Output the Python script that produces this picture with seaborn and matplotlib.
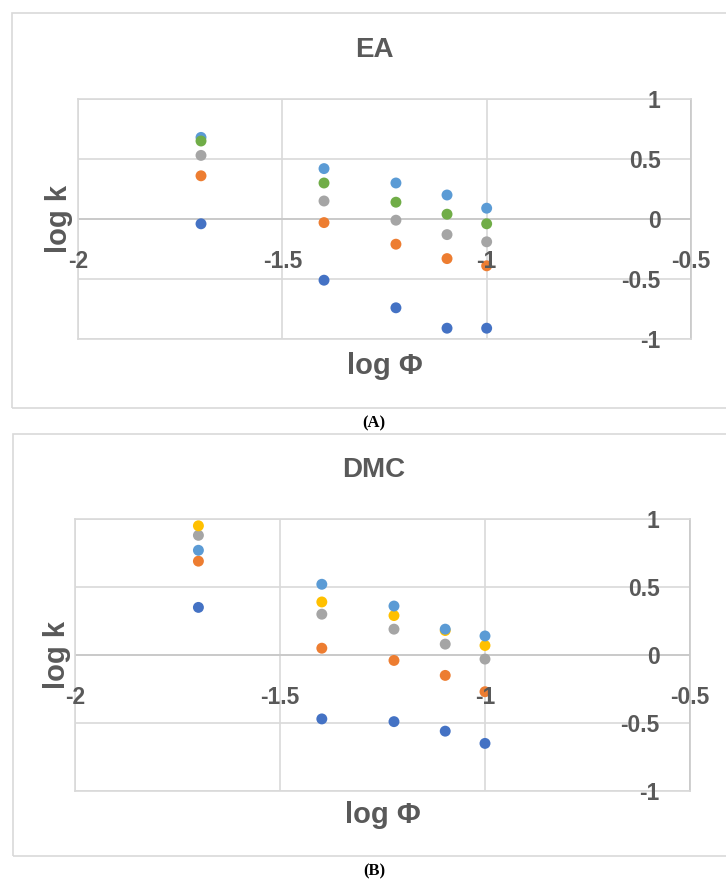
import numpy as np
import pandas as pd
import matplotlib
matplotlib.use('Agg')
import matplotlib.pyplot as plt
import matplotlib.patches as mpatches
import seaborn as sns

# ================= 数据 =================
# log Φ (x) 五个浓度点
log_phi = [-1.699, -1.398, -1.222, -1.097, -1.0]

# 面板 A: EA
ea_series = ['s1', 's2', 's3', 's5', 's6']
ea_s1 = [-0.04, -0.51, -0.74, -0.91, -0.91]
ea_s2 = [0.36, -0.03, -0.21, -0.33, -0.39]
ea_s3 = [0.53, 0.15, -0.01, -0.13, -0.19]
ea_s5 = [0.68, 0.42, 0.30, 0.20, 0.09]
ea_s6 = [0.65, 0.30, 0.14, 0.04, -0.04]

# 面板 B: DMC
dmc_series = ['s1', 's2', 's3', 's4', 's5']
dmc_s1 = [0.35, -0.47, -0.49, -0.56, -0.65]
dmc_s2 = [0.69, 0.05, -0.04, -0.15, -0.27]
dmc_s3 = [0.88, 0.30, 0.19, 0.08, -0.03]
dmc_s4 = [0.95, 0.39, 0.29, 0.18, 0.07]
dmc_s5 = [0.77, 0.52, 0.36, 0.19, 0.14]

x_ticks = [-2, -1.5, -1, -0.5]
x_ticklabels = ['-2', '-1.5', '-1', '-0.5']
y_ticks = [-1, -0.5, 0, 0.5, 1]
y_ticklabels = ['-1', '-0.5', '0', '0.5', '1']

# Excel 默认配色
PALETTE = {'s1': '#4472C4', 's2': '#ED7D31', 's3': '#A5A5A5',
           's4': '#FFC000', 's5': '#5B9BD5', 's6': '#70AD47'}

TXT = '#595959'
GRID = '#d9d9d9'

sns.set_style("white")
plt.rcParams['font.family'] = ['Liberation Sans', 'DejaVu Sans']
plt.rcParams['axes.unicode_minus'] = False

W, H = 726, 880


def make_df(names, values):
    rows = []
    for name, vals in zip(names, values):
        for x, y in zip(log_phi, vals):
            rows.append({'series': name, 'logphi': x, 'logk': y})
    return pd.DataFrame(rows)


def draw_panel(fig, box_px, title, title_y, df, names, label_k_x, label_phi_y, cap, cap_y, frame_px):
    l, r, t, b = box_px
    pos = [l / W, 1 - b / H, (r - l) / W, (b - t) / H]
    ax = fig.add_axes(pos)

    sns.scatterplot(data=df, x='logphi', y='logk', hue='series', hue_order=names,
                    palette=PALETTE, s=62, linewidth=0, legend=False, ax=ax, zorder=3)

    ax.set_xlim(-2, -0.5)
    ax.set_ylim(-1, 1)
    ax.set_xticks(x_ticks)
    ax.set_yticks(y_ticks)
    ax.tick_params(length=0, labelbottom=False, labelleft=False)
    ax.grid(True, color=GRID, linewidth=1.2)
    ax.set_axisbelow(True)
    ax.axhline(0, color='#c8c8c8', linewidth=1.3, zorder=1)
    for s in ['left', 'top', 'bottom']:
        ax.spines[s].set_color(GRID)
        ax.spines[s].set_linewidth(1.2)
    ax.spines['right'].set_color('#c8c8c8')
    ax.spines['right'].set_linewidth(1.2)
    ax.set_xlabel('')
    ax.set_ylabel('')

    # 刻度标签放在上层，盖住数据点（与 Excel 一致）
    top = fig.add_axes(pos, sharex=ax, sharey=ax)
    top.patch.set_visible(False)
    for s in top.spines.values():
        s.set_visible(False)
    top.spines['bottom'].set_position(('data', 0))
    top.set_xticks(x_ticks)
    top.set_xticklabels(x_ticklabels)
    top.set_yticks(y_ticks)
    top.set_yticklabels(y_ticklabels)
    top.tick_params(axis='x', length=0, pad=22, labelsize=16.5, labelcolor=TXT)
    top.tick_params(axis='y', length=0, left=False, labelleft=False,
                    right=True, labelright=True, pad=-22, labelsize=16.5, labelcolor=TXT)
    for tk in top.yaxis.get_major_ticks():
        tk.label2.set_horizontalalignment('right')
        tk.label2.set_fontweight('bold')
    for tk in top.xaxis.get_major_ticks():
        tk.label1.set_fontweight('bold')
    top.set_xlabel('')
    top.set_ylabel('')

    ax.text((label_k_x - l) / (r - l), 0.5, 'log k', rotation=90, transform=ax.transAxes,
            ha='center', va='center', fontsize=21, fontweight='bold', color=TXT)
    ax.text(0.5, -(label_phi_y - b) / (b - t), 'log Φ', transform=ax.transAxes,
            ha='center', va='center', fontsize=21, fontweight='bold', color=TXT)

    fig.text(374 / W, 1 - title_y / H, title, ha='center', va='center',
             fontsize=20, fontweight='bold', color=TXT)

    fl, ft, fb = frame_px
    fig.patches.append(mpatches.Rectangle((fl / W, 1 - fb / H), 1.2, (fb - ft) / H,
                                          transform=fig.transFigure, fill=False,
                                          edgecolor=GRID, linewidth=1.2))
    fig.text(374 / W, 1 - cap_y / H, cap, ha='center', va='center', fontsize=12,
             fontweight='bold', family='Liberation Serif', color='black')
    return ax


fig = plt.figure(figsize=(W / 100, H / 100), dpi=100)

df_ea = make_df(ea_series, [ea_s1, ea_s2, ea_s3, ea_s5, ea_s6])
df_dmc = make_df(dmc_series, [dmc_s1, dmc_s2, dmc_s3, dmc_s4, dmc_s5])

draw_panel(fig, (78, 691, 99, 339), 'EA', 50, df_ea, ea_series,
           59, 366, '(A)', 423, (11.5, 13, 408))
draw_panel(fig, (75, 690, 519, 791), 'DMC', 470, df_dmc, dmc_series,
           57, 815, '(B)', 871, (13, 434, 856))

fig.savefig('out.png', dpi=100)
